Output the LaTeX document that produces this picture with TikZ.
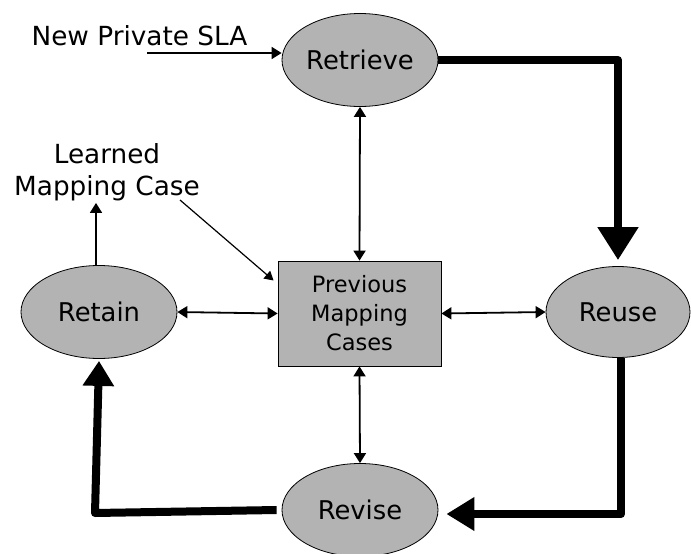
\documentclass[tikz,border=0pt]{standalone}
\usepackage{fontspec}
\setmainfont{DejaVu Sans}
\usetikzlibrary{arrows.meta,shapes.geometric}
\definecolor{stagegray}{HTML}{B3B3B3}

\begin{document}
\begin{tikzpicture}[x=1pt,y=-1pt,
  stage/.style={ellipse, draw=black, line width=0.8pt, fill=stagegray,
    minimum width=156pt, minimum height=93pt, inner sep=0pt,
    font=\fontsize{25.8}{30}\selectfont},
  store/.style={rectangle, draw=black, line width=0.8pt, fill=stagegray,
    minimum width=163pt, minimum height=105pt, align=center,
    font=\fontsize{22.5}{29}\selectfont},
  caption/.style={align=center, inner sep=2pt, font=\fontsize{26.3}{32}\selectfont},
  oneway/.style={line width=1.8pt, -{Triangle[length=10pt,width=12pt]}},
  twoway/.style={line width=1.8pt, {Triangle[length=10pt,width=12pt]}-{Triangle[length=10pt,width=12pt]}},
  heavy/.style={line width=8pt, line join=round}
]
\useasboundingbox (0,0) rectangle (691,554);

% process stages
\node[stage] (retrieve) at (360,60) {Retrieve};
\node[stage, minimum width=144pt, minimum height=91pt] (reuse) at (618,312) {Reuse};
\node[stage] (retain) at (99,312) {Retain};
\node[stage] (revise) at (360,510) {Revise};

% case base
\node[store] (cases) at (359.5,313.5) {Previous\\Mapping\\Cases};

% free labels
\node[caption] (newsla) at (139.5,36) {New Private SLA};
\node[caption] (learned) at (107,172) {Learned\\Mapping Case};

\coordinate (slatail) at (147,53);
\coordinate (learnedtail) at (180,200);
\coordinate (bend) at (95,513);

% incoming SLA
\draw[oneway] (slatail) -- (slatail -| retrieve.west);

% main cycle
\draw[heavy, -{Triangle[length=33pt,width=39pt]}]
  (retrieve.east) -| ([yshift=6pt]reuse.north);
\draw[heavy, -{Triangle[length=28pt,width=32pt]}]
  ([xshift=3pt]reuse.south) |- ([xshift=8pt,yshift=-4pt]revise.east);
\draw[heavy, -{Triangle[length=25pt,width=30pt]}]
  ([xshift=-5pt]revise.west) -- (bend) -- ([yshift=-2pt]retain.south);

% retained case
\draw[oneway] ([xshift=-3pt]retain.north) -- ([xshift=-3pt]retain.north |- learned.south);
\draw[line width=1.2pt, -{Triangle[length=9pt,width=10pt]}]
  (learnedtail) -- ([shift={(-4,-33)}]cases.west);

% exchanges with the case base
\draw[twoway] (retrieve.south) -- (cases.north);
\draw[twoway] (retain.east) -- (cases.west);
\draw[twoway] (cases.east) -- (reuse.west);
\draw[twoway] (cases.south) -- (revise.north);
\end{tikzpicture}
\end{document}
